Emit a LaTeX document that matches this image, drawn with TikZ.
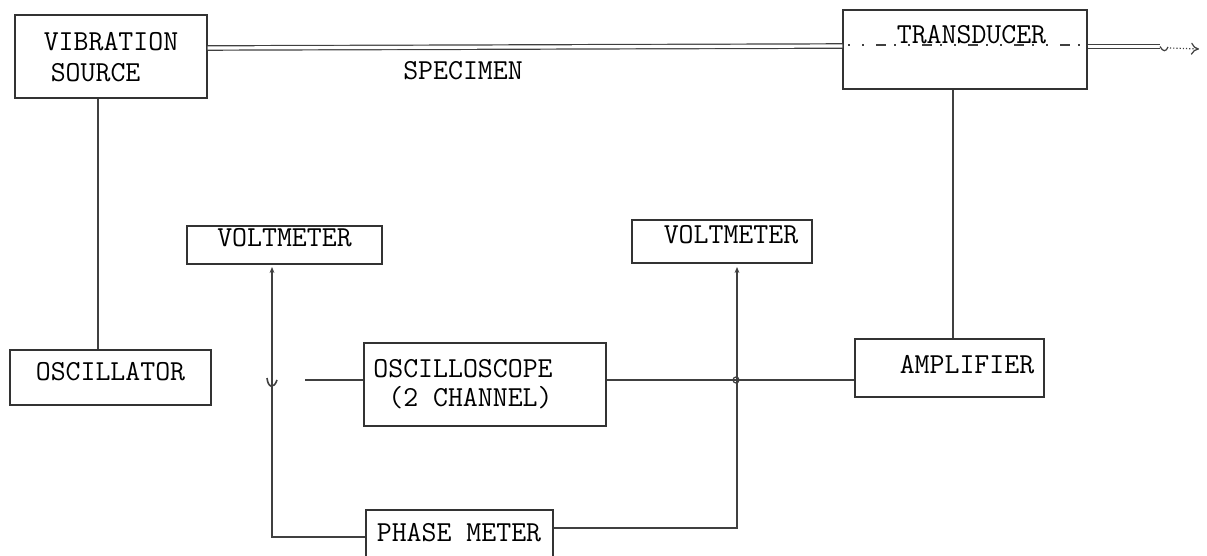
\documentclass[tikz,border=0pt]{standalone}
\usetikzlibrary{calc,arrows.meta}
\begin{document}
\begin{tikzpicture}[x=0.5pt,y=-0.5pt,
  box/.style={draw=black!80, line width=0.6pt, inner sep=0pt},
  wire/.style={draw=black!75, line width=0.6pt},
  lbl/.style={font=\ttfamily\fontsize{14.5}{15.5}\selectfont, inner sep=0pt},
  tip/.style={{Stealth[length=3pt,width=2.4pt]}-}]
\useasboundingbox (0,0) rectangle (1207,556);
% boxes
\node[box, minimum width=96pt, minimum height=41.5pt] (vib) at (111,56.5) {};
\node[lbl, align=left] (vibtxt) at (111,57) {VIBRATION\\\hspace*{3.5pt}SOURCE};
\node[box, minimum width=122pt, minimum height=39.5pt] (trans) at (965,49.5) {};
\node[box, minimum width=100.5pt, minimum height=27.5pt] (osc) at (110.5,377.5) {};
\node[lbl] (osctxt) at (110.5,372) {OSCILLATOR};
\node[box, minimum width=97.5pt, minimum height=19pt] (volt1) at (284.5,245) {};
\node[lbl] (volt1txt) at (284.5,238) {VOLTMETER};
\node[box, minimum width=90pt, minimum height=21.5pt] (volt2) at (722,241.5) {};
\node[lbl] (volt2txt) at (731,235) {VOLTMETER};
\node[box, minimum width=121pt, minimum height=41.5pt] (scope) at (485,384.5) {};
\node[lbl, align=left, anchor=west] (scopetxt) at (373,384) {OSCILLOSCOPE\\[-1pt]\ (2 CHANNEL)};
\node[box, minimum width=94.5pt, minimum height=29pt] (amp) at (949.5,368) {};
\node[lbl] (amptxt) at (967,365) {AMPLIFIER};
\node[box, minimum width=93.5pt, minimum height=32pt] (phase) at (459.5,542) {};
\node[lbl] (phasetxt) at (459,533) {PHASE METER};
% specimen double line
\coordinate (s1) at (vib.east |- 0,48);
\coordinate (s2) at (trans.west |- 0,46);
\draw[wire, double, double distance=1.6pt] (s1) -- (s2);
\node[lbl] (spec) at (463,71) {SPECIMEN};
% dotted line through transducer
\draw[wire, dash pattern=on 1pt off 6pt on 1pt off 6pt on 5pt off 4pt] ([xshift=3pt]trans.west |- 0,45) -- ([xshift=-4pt]trans.east |- 0,45);
\node[lbl] (transtxt) at (971.5,35) {TRANSDUCER};
% output on right
\coordinate (o1) at (trans.east |- 0,46.5);
\coordinate (o2) at (1160,46.5);
\coordinate (o3) at (1199,49);
\draw[wire, double, double distance=1.6pt] (o1) -- (o2);
\draw[wire] (o2) .. controls (1163,52) and (1166,52) .. (1168,47);
\draw[wire, densely dotted, -{To[length=4pt,width=6pt]}] (1170,48) -- (o3);
% vibration source to oscillator
\coordinate (v1) at ($(vib.south)+(-13,0)$);
\draw[wire] (v1) -- (v1 |- osc.north);
% transducer to amplifier
\draw[wire] (trans.south -| 953,0) -- (amp.north -| 953,0);
% amplifier to oscilloscope
\coordinate (h1) at (amp.west |- 0,380);
\coordinate (h2) at (scope.east |- 0,380);
\coordinate (cr) at (736,380);
\draw[wire] (h1) -- (cr) -- (h2);
\draw[wire] (cr) circle[radius=3];
% left short input to oscilloscope
\coordinate (h3) at (305,380);
\draw[wire] (h3) -- (scope.west |- h3);
% left voltmeter line
\coordinate (a1) at (272,267);
\coordinate (a2) at (272,537);
\draw[wire, tip] (a1) -- (a2) -- (phase.west |- a2);
\draw[wire, line width=0.8pt] (267,378) .. controls (268,388) and (274,389) .. (277,380);
% right voltmeter line
\coordinate (b1) at (737,267);
\coordinate (b2) at (737,528);
\draw[wire, tip] (b1) -- (b2) -- (phase.east |- b2);
\end{tikzpicture}
\end{document}
